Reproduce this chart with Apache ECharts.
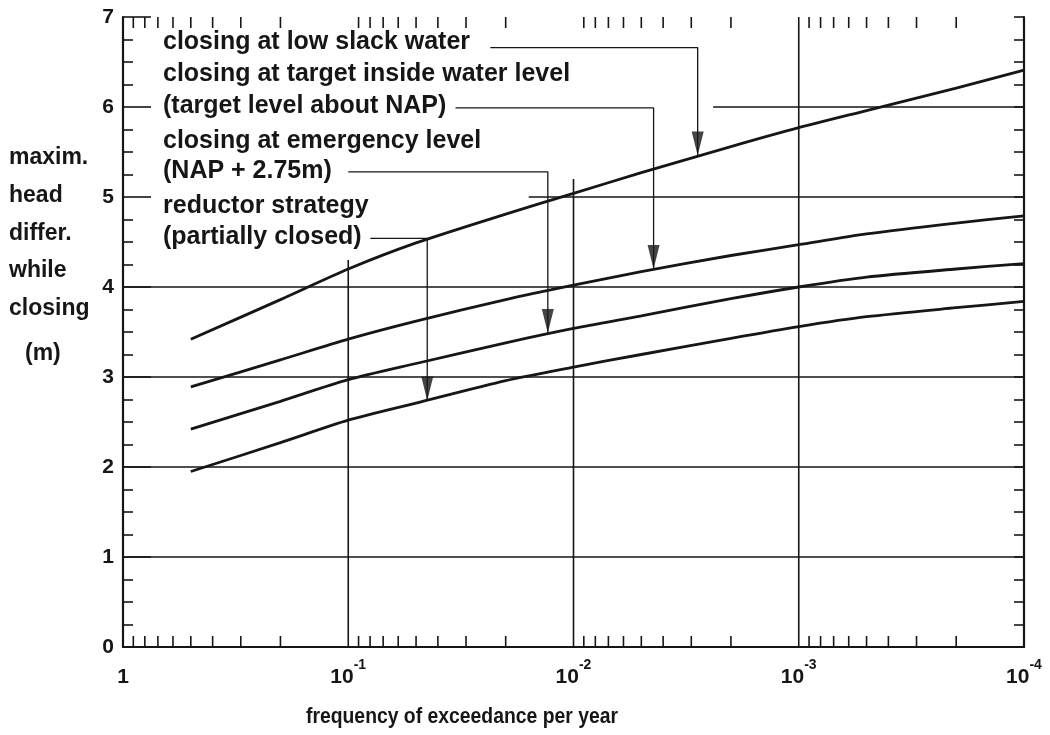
<!DOCTYPE html>
<html>
<head>
<meta charset="utf-8">
<script src="https://cdn.jsdelivr.net/npm/echarts@6/dist/echarts.min.js"></script>
<style>
  html, body { margin: 0; padding: 0; background: #fff; }
  #chart { width: 1050px; height: 735px; }
</style>
</head>
<body>
<div id="chart"></div>
<script>
// Frequency of exceedance per year (log axis, read right-to-left: 1 ... 1e-4)
const frequency = [0.5, 0.2, 0.1, 0.05, 0.02, 0.01, 0.005, 0.002, 0.001, 0.0005, 0.0002, 0.0001];

// Maximum head difference while closing (m) for each closing strategy
const lowSlackWater   = [3.42, 3.86, 4.20, 4.49, 4.81, 5.04, 5.27, 5.56, 5.77, 5.96, 6.21, 6.41];
const targetLevel     = [2.89, 3.19, 3.42, 3.62, 3.86, 4.02, 4.17, 4.35, 4.47, 4.59, 4.71, 4.79];
const emergencyLevel  = [2.42, 2.73, 2.97, 3.15, 3.38, 3.54, 3.68, 3.87, 4.00, 4.11, 4.20, 4.26];
const reductorPartial = [1.95, 2.27, 2.52, 2.71, 2.96, 3.11, 3.25, 3.43, 3.56, 3.67, 3.77, 3.84];

// Axis ticks
const decadeExponents = [0, -1, -2, -3, -4];
const minorMultipliers = [2, 3, 4, 5, 6, 7, 8, 9];
const yTickValues = [0, 1, 2, 3, 4, 5, 6, 7];

// Grid rules: horizontal [value, fromFreq, toFreq], vertical [freq, fromValue, toValue]
const gridHorizontal = [[1, 1, 0.0001], [2, 1, 0.0001], [3, 1, 0.0001], [4, 1, 0.0001], [5, 0.0158, 0.0001], [6, 0.0024, 0.0001]];
const gridVertical = [[0.1, 0, 4.3], [0.01, 0, 5.2], [0.001, 0, 7]];

// Annotation leaders (freq, value) and arrow tips on the curves
const leaderLowSlack  = [[0.0234, 6.66], [0.00281, 6.66], [0.00281, 5.46]];
const leaderTarget    = [[0.0334, 5.99], [0.00441, 5.99], [0.00441, 4.20]];
const leaderEmergency = [[0.1, 5.28], [0.0130, 5.28], [0.0130, 3.49]];
const leaderReductor  = [[0.0798, 4.54], [0.0446, 4.54], [0.0446, 2.74]];
const arrowTips = [[0.00281, 5.46], [0.00441, 4.20], [0.0130, 3.49], [0.0446, 2.74]];

const annotationLines = [
  'closing at low slack water',
  'closing at target inside water level',
  '(target level about NAP)',
  'closing at emergency level',
  '(NAP + 2.75m)',
  'reductor strategy',
  '(partially closed)'
];
const annotationY = [43, 75, 107, 142, 172, 207, 238];

const yTitleLines = ['maxim.', 'head', 'differ.', 'while', 'closing', '(m)'];
const yTitleY = [158, 196, 234, 271, 309, 354];
const xTitle = 'frequency of exceedance per year';

const INK = '#161616';
const FONT = '"Liberation Sans", Arial, Helvetica, sans-serif';

const minorTickFreq = [];
decadeExponents.slice(1).forEach(function (e) {
  minorMultipliers.forEach(function (m) { minorTickFreq.push(m * Math.pow(10, e)); });
});

function pairs(values) { return frequency.map(function (f, i) { return [f, values[i]]; }); }

function ruleSeries(points, width) {
  return {
    type: 'line', data: points, showSymbol: false, symbol: 'none', silent: true,
    lineStyle: { color: INK, width: width }, z: 2, animation: false
  };
}

const series = [];
gridHorizontal.forEach(function (g) { series.push(ruleSeries([[g[1], g[0]], [g[2], g[0]]], 1.6)); });
gridVertical.forEach(function (g) { series.push(ruleSeries([[g[0], g[1]], [g[0], g[2]]], 1.6)); });
[leaderLowSlack, leaderTarget, leaderEmergency, leaderReductor].forEach(function (l) { series.push(ruleSeries(l, 1.3)); });

[lowSlackWater, targetLevel, emergencyLevel, reductorPartial].forEach(function (v) {
  series.push({
    type: 'line', data: pairs(v), smooth: 0.25, showSymbol: false, symbol: 'none', silent: true,
    lineStyle: { color: INK, width: 2.8 }, z: 4
  });
});

series.push({
  type: 'scatter', data: arrowTips, silent: true, z: 6,
  symbol: 'path://M0,0L12,0L6,24Z', symbolSize: [12, 24], symbolOffset: [0, '-50%'],
  itemStyle: { color: INK }
});

// Minor log ticks drawn inward from the bottom and top frame
series.push({
  type: 'custom', data: minorTickFreq.map(function (f) { return [f, 0]; }), silent: true, z: 5,
  renderItem: function (params, api) {
    const f = api.value(0);
    const b = api.coord([f, 0]);
    const t = api.coord([f, 7]);
    const st = { stroke: INK, lineWidth: 1.6 };
    return {
      type: 'group', children: [
        { type: 'line', shape: { x1: b[0], y1: b[1], x2: b[0], y2: b[1] - 11 }, style: st },
        { type: 'line', shape: { x1: t[0], y1: t[1], x2: t[0], y2: t[1] + 11 }, style: st }
      ]
    };
  }
});

const graphic = [];
annotationLines.forEach(function (txt, i) {
  graphic.push({ type: 'text', left: 163, top: annotationY[i] - 13,
    style: { text: txt, font: 'bold 25px ' + FONT, fill: INK } });
});
yTitleLines.forEach(function (txt, i) {
  graphic.push({ type: 'text', left: i === yTitleLines.length - 1 ? 25 : 9, top: yTitleY[i] - 12,
    style: { text: txt, font: 'bold 23px ' + FONT, fill: INK } });
});
graphic.push({ type: 'text', x: 462, y: 717, scaleX: 0.88,
  style: { text: xTitle, font: 'bold 22px ' + FONT, fill: INK, align: 'center', verticalAlign: 'middle' } });

const chart = echarts.init(document.getElementById('chart'), null, { renderer: 'canvas' });
chart.setOption({
  animation: false,
  backgroundColor: '#fff',
  grid: { left: 123, right: 26, top: 17, bottom: 88 },
  xAxis: [
    {
      type: 'log', logBase: 10, min: 0.0001, max: 1, inverse: true, position: 'bottom', splitNumber: 4,
      axisLine: { show: true, lineStyle: { color: INK, width: 2.2 } },
      axisTick: { show: false }, minorTick: { show: false }, splitLine: { show: false },
      axisLabel: {
        margin: 11, color: INK,
        formatter: function (v) {
          const e = Math.round(Math.log10(v));
          return decadeExponents.indexOf(e) < 0 ? '' : (e === 0 ? '{n|1}' : '{n|10}{s|' + e + '}');
        },
        rich: {
          n: { fontSize: 21, fontWeight: 'bold', fontFamily: FONT, color: INK, lineHeight: 30, verticalAlign: 'bottom' },
          s: { fontSize: 14, fontWeight: 'bold', fontFamily: FONT, color: INK, lineHeight: 30, verticalAlign: 'top' }
        }
      }
    },
    {
      type: 'log', logBase: 10, min: 0.0001, max: 1, inverse: true, position: 'top',
      axisLine: { show: true, lineStyle: { color: INK, width: 2.2 } },
      axisTick: { show: false }, axisLabel: { show: false }, splitLine: { show: false }
    }
  ],
  yAxis: [
    {
      type: 'value', min: yTickValues[0], max: yTickValues[yTickValues.length - 1], interval: 1, position: 'left',
      axisLine: { show: true, lineStyle: { color: INK, width: 2.2 } },
      axisTick: { show: true, inside: true, length: 28, lineStyle: { color: INK, width: 1.6 } },
      minorTick: { show: true, splitNumber: 4, length: 10, lineStyle: { color: INK, width: 1.6 } },
      splitLine: { show: false },
      axisLabel: { margin: 9, color: INK, fontSize: 21, fontWeight: 'bold', fontFamily: FONT }
    },
    {
      type: 'value', min: yTickValues[0], max: yTickValues[yTickValues.length - 1], interval: 1, position: 'right',
      axisLine: { show: true, lineStyle: { color: INK, width: 2.2 } },
      axisTick: { show: true, inside: true, length: 10, lineStyle: { color: INK, width: 1.6 } },
      minorTick: { show: true, splitNumber: 4, length: 10, lineStyle: { color: INK, width: 1.6 } },
      splitLine: { show: false },
      axisLabel: { show: false }
    }
  ],
  series: series,
  graphic: graphic
});
</script>
</body>
</html>
